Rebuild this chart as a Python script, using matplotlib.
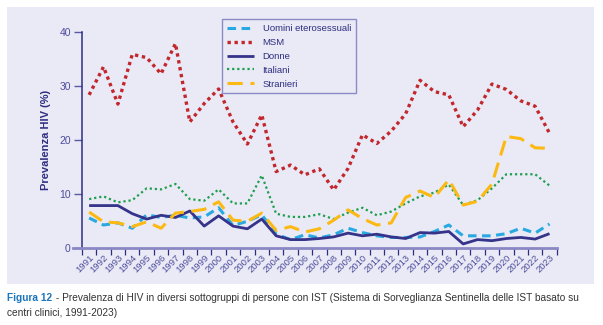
import matplotlib
matplotlib.use("Agg")
import matplotlib.pyplot as plt
import numpy as np
from matplotlib.patches import Rectangle

plt.rcParams["font.family"] = ["Liberation Sans", "DejaVu Sans"]

YEARS = list(range(1991, 2024))

UOMINI = [5.5, 4.2, 4.6, 3.6, 6.1, 5.6, 6.0, 5.5, 5.7, 7.4, 4.1, 4.9, 6.1, 2.5, 1.5, 2.4,
          1.8, 2.4, 3.6, 2.8, 2.2, 1.9, 1.9, 2.0, 3.0, 4.2, 2.2, 2.2, 2.2, 2.6, 3.6, 2.7, 4.4]
MSM = [28.3, 33.5, 26.6, 35.8, 35.2, 32.2, 37.8, 23.3, 26.7, 29.4, 23.3, 19.2, 24.6, 14.1,
       15.3, 13.5, 14.6, 10.7, 14.7, 20.9, 19.3, 21.6, 24.8, 31.0, 28.9, 28.3, 22.4, 25.5,
       30.3, 29.3, 27.2, 26.2, 21.2]
DONNE = [7.8, 7.8, 7.8, 6.3, 5.3, 6.0, 5.6, 6.8, 4.0, 5.9, 4.0, 3.5, 5.3, 2.2, 1.5, 1.5,
         1.7, 2.0, 2.7, 2.2, 2.5, 2.0, 1.7, 2.8, 2.7, 3.0, 0.7, 1.5, 1.3, 1.7, 1.9, 1.6, 2.6]
ITALIANI = [9.0, 9.5, 8.4, 8.8, 11.0, 10.8, 11.8, 9.0, 8.7, 10.8, 8.2, 8.2, 13.4, 6.3, 5.7,
            5.7, 6.2, 5.3, 6.5, 7.4, 6.0, 6.7, 8.2, 9.5, 10.2, 11.7, 7.9, 8.8, 11.0, 13.6,
            13.6, 13.6, 11.5]
STRANIERI = [6.6, 4.8, 4.6, 3.9, 4.8, 3.6, 6.4, 6.7, 7.1, 8.5, 5.1, 4.9, 6.4, 3.2, 3.9,
             2.9, 3.5, 5.1, 7.0, 5.4, 4.2, 4.6, 9.3, 10.5, 9.3, 12.6, 7.9, 8.6, 11.8, 20.6,
             20.2, 18.5, 18.4]

SERIES = [
    ("Uomini eterosessuali", UOMINI, "#29A9E1", 2.2, (0, (2.8, 1.8))),
    ("MSM", MSM, "#C1272D", 2.4, (0, (1, 1.1))),
    ("Donne", DONNE, "#35338A", 2.0, "-"),
    ("Italiani", ITALIANI, "#1E9E4E", 1.6, (0, (1, 1.3))),
    ("Stranieri", STRANIERI, "#FDB913", 2.2, (0, (5, 2.5))),
]

PANEL = "#E9EAF5"
NAVY = "#2E2D80"
TICK_TEXT = "#4E4C9E"

fig = plt.figure(figsize=(6.03, 3.25), dpi=100)
fig.patches.append(Rectangle((7 / 603, 1 - 284 / 325), 587 / 603, 277 / 325,
                             transform=fig.transFigure, facecolor=PANEL,
                             edgecolor="none", zorder=-1))

ax = fig.add_axes([73.3 / 603, 1 - 247.7 / 325, (556.7 - 73.3) / 603, 216 / 325])
ax.set_facecolor("none")

x = np.arange(len(YEARS)) + 0.5
for label, values, color, lw, ls in SERIES:
    ax.plot(x, values, color=color, lw=lw, linestyle=ls, label=label,
            solid_capstyle="butt", dash_capstyle="butt")

ax.set_xlim(-0.6, len(YEARS))
ax.set_ylim(0, 40)

for side in ("top", "right"):
    ax.spines[side].set_visible(False)
ax.spines["left"].set_position(("data", 0))
ax.spines["left"].set_color(NAVY)
ax.spines["left"].set_linewidth(1.1)
ax.spines["bottom"].set_color("#8A88C4")
ax.spines["bottom"].set_linewidth(2.0)

ax.set_yticks([0, 10, 20, 30, 40])
ax.tick_params(axis="y", length=6, width=1.0, color="#5A59A5", labelcolor=TICK_TEXT,
               labelsize=7.5, pad=2)

# ticks on the category boundaries, year labels in the middle
ax.set_xticks(np.arange(len(YEARS) + 1))
ax.set_xticklabels([])
ax.tick_params(axis="x", which="major", length=5, width=0.9, color=NAVY)
ax.set_xticks(x, minor=True)
ax.set_xticklabels([str(y) for y in YEARS], minor=True, rotation=45, ha="right",
                   rotation_mode="anchor", fontsize=6.8, color=TICK_TEXT)
ax.tick_params(axis="x", which="minor", length=0, pad=4)

ax.set_ylabel("Prevalenza HIV (%)", fontsize=8, fontweight="bold", color=NAVY, labelpad=6)

leg = ax.legend(loc="upper left", bbox_to_anchor=(222 / 603, 1 - 19.3 / 325),
                bbox_transform=fig.transFigure, fontsize=6.8, frameon=True,
                fancybox=False, edgecolor="#8C8BC6", facecolor=PANEL, framealpha=1,
                handlelength=2.9, handletextpad=0.9, labelspacing=0.52, borderpad=0.5,
                borderaxespad=0)
leg.get_frame().set_linewidth(1.0)
for t in leg.get_texts():
    t.set_color(NAVY)

CAP_SIZE = 7.3
cap1 = fig.text(7 / 603, 1 - 300.7 / 325, "Figura 12", color="#1B75BC", fontsize=CAP_SIZE,
                fontweight="bold", va="baseline", ha="left")
fig.canvas.draw()
bb = cap1.get_window_extent()
fig.text((bb.x1 + 1) / 603, 1 - 300.7 / 325,
         " - Prevalenza di HIV in diversi sottogruppi di persone con IST "
         "(Sistema di Sorveglianza Sentinella delle IST basato su",
         color="#333333", fontsize=CAP_SIZE, va="baseline", ha="left")
fig.text(7 / 603, 1 - 315.6 / 325, "centri clinici, 1991-2023)", color="#333333",
         fontsize=CAP_SIZE, va="baseline", ha="left")

fig.savefig("out.png", dpi=100)
